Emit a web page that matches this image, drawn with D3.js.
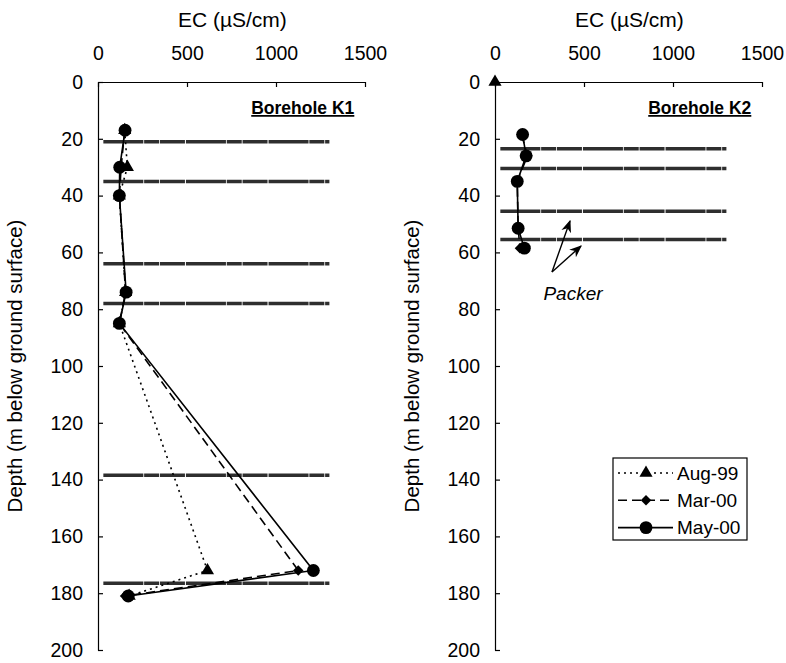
<!DOCTYPE html>
<html>
<head>
<meta charset="utf-8">
<script src="https://cdn.jsdelivr.net/npm/d3@7"></script>
<style>
  body { margin: 0; background: #fff; }
  svg { display: block; font-family: "Liberation Sans", Arial, sans-serif; }
  .axis text { font-size: 19.5px; fill: #000; }
  .axis path, .axis line { stroke: #000; stroke-width: 1.2; }
</style>
</head>
<body>
<svg width="786" height="663"></svg>
<script>
// ---- data ----
const ecTicks = [0, 500, 1000, 1500];
const depthTicks = [0, 20, 40, 60, 80, 100, 120, 140, 160, 180, 200];

// Borehole K1
const k1Depth = [17, 30, 40, 74, 85, 172, 181];
const k1Aug99 = [150, 165, 120, 155, 120, 615, 175];
const k1Mar00 = [150, 130, 120, 155, 120, 1125, 152];
const k1May00 = [152, 122, 120, 158, 120, 1210, 170];
const k1Packers = [21, 35, 64, 78, 138.5, 176.5];

// Borehole K2
const k2Aug99Depth = [0];
const k2Aug99 = [0];
const k2Depth = [18.5, 26, 35, 51.5, 58.5];
const k2Mar00 = [150, 182, 125, 130, 140];
const k2May00 = [155, 175, 125, 130, 165];
const k2Packers = [23.5, 30.5, 45.5, 55.5];

const packerFrom = 30, packerTo = 1300;
const seriesNames = ["Aug-99", "Mar-00", "May-00"];

// ---- layout ----
const svg = d3.select("svg");
const y = d3.scaleLinear().domain([0, 200]).range([82, 650]);
const xLeft = d3.scaleLinear().domain([0, 1500]).range([98, 365]);
const xRight = d3.scaleLinear().domain([0, 1500]).range([495, 762]);

const dashFor = { "Aug-99": "2,4", "Mar-00": "9,5", "May-00": null };
const symFor = { "Aug-99": d3.symbolTriangle, "Mar-00": d3.symbolSquare, "May-00": d3.symbolCircle };
const sizeFor = { "Aug-99": 75, "Mar-00": 55, "May-00": 130 };
const rotFor = { "Aug-99": 0, "Mar-00": 45, "May-00": 0 };

function marker(sel, name) {
    sel.attr("d", d3.symbol().type(symFor[name]).size(sizeFor[name]))
        .attr("fill", "#000");
}

function drawPanel(x, packers, series, label) {
    const g = svg.append("g");

    // packers
    g.selectAll(".packer")
        .data(packers)
        .enter().append("line")
        .attr("class", "packer")
        .attr("x1", x(packerFrom)).attr("x2", x(packerTo))
        .attr("y1", d => y(d)).attr("y2", d => y(d))
        .attr("stroke", "#2e2e2e")
        .attr("stroke-width", 3.5)
        .attr("stroke-dasharray", "40,0.8,15,0.8,25,1");

    // axes
    g.append("g")
        .attr("class", "axis")
        .attr("transform", `translate(0,${y(0)})`)
        .call(d3.axisTop(x).tickValues(ecTicks).tickFormat(d3.format("d"))
            .tickSizeInner(-5).tickSizeOuter(0).tickPadding(22));

    g.append("g")
        .attr("class", "axis")
        .attr("transform", `translate(${x(0)},0)`)
        .call(d3.axisLeft(y).tickValues(depthTicks).tickSizeInner(-5).tickSizeOuter(0).tickPadding(15));

    g.append("text")
        .attr("x", x(755)).attr("y", 27)
        .attr("text-anchor", "middle")
        .style("font-size", "21px")
        .text("EC (\u00b5S/cm)");

    g.append("text")
        .attr("transform", `translate(${x(0) - 76},${y(100)}) rotate(-90)`)
        .attr("text-anchor", "middle")
        .style("font-size", "20.5px")
        .text("Depth (m below ground surface)");

    g.append("text")
        .attr("x", x(1440)).attr("y", 114)
        .attr("text-anchor", "end")
        .style("font-size", "17.5px")
        .style("font-weight", "bold")
        .style("text-decoration", "underline")
        .text(label);

    // series
    series.forEach(s => {
        const pts = s.depth.map((d, i) => [s.ec[i], d]);
        const line = d3.line().x(p => x(p[0])).y(p => y(p[1]));
        if (pts.length > 1) {
            g.append("path")
                .attr("d", line(pts))
                .attr("fill", "none")
                .attr("stroke", "#000")
                .attr("stroke-width", 1.6)
                .attr("stroke-dasharray", dashFor[s.name]);
        }
        g.selectAll(null)
            .data(pts)
            .enter().append("path")
            .attr("transform", p => `translate(${x(p[0])},${y(p[1])}) rotate(${rotFor[s.name]})`)
            .call(marker, s.name);
    });
    return g;
}

drawPanel(xLeft, k1Packers, [
    { name: "Aug-99", depth: k1Depth, ec: k1Aug99 },
    { name: "Mar-00", depth: k1Depth, ec: k1Mar00 },
    { name: "May-00", depth: k1Depth, ec: k1May00 }
], "Borehole K1");

drawPanel(xRight, k2Packers, [
    { name: "Aug-99", depth: k2Aug99Depth, ec: k2Aug99 },
    { name: "Mar-00", depth: k2Depth, ec: k2Mar00 },
    { name: "May-00", depth: k2Depth, ec: k2May00 }
], "Borehole K2");

// Packer annotation
svg.append("defs").append("marker")
    .attr("id", "arrow")
    .attr("viewBox", "0 0 10 10")
    .attr("refX", 9).attr("refY", 5)
    .attr("markerWidth", 9).attr("markerHeight", 9)
    .attr("orient", "auto")
    .append("path")
    .attr("d", "M0,1 L10,5 L0,9 L3,5 Z")
    .attr("fill", "#000");

[[570, 221], [581, 246]].forEach(t => {
    svg.append("line")
        .attr("x1", 552).attr("y1", 272)
        .attr("x2", t[0]).attr("y2", t[1])
        .attr("stroke", "#000").attr("stroke-width", 1.4)
        .attr("marker-end", "url(#arrow)");
});
svg.append("text")
    .attr("x", 573).attr("y", 300)
    .attr("text-anchor", "middle")
    .style("font-size", "19px")
    .style("font-style", "italic")
    .text("Packer");

// legend
const lg = svg.append("g");
lg.append("rect")
    .attr("x", 613).attr("y", 458).attr("width", 134).attr("height", 82)
    .attr("fill", "#fff").attr("stroke", "#000").attr("stroke-width", 1.2);
seriesNames.forEach((name, i) => {
    const yy = 473 + i * 27.3;
    lg.append("line")
        .attr("x1", 618).attr("x2", 673).attr("y1", yy).attr("y2", yy)
        .attr("stroke", "#000").attr("stroke-width", 1.6)
        .attr("stroke-dasharray", dashFor[name]);
    lg.append("path")
        .attr("transform", `translate(646,${yy}) rotate(${rotFor[name]})`)
        .call(marker, name);
    lg.append("text")
        .attr("x", 677).attr("y", yy).attr("dy", "0.36em")
        .style("font-size", "19px")
        .text(name);
});
</script>
</body>
</html>
